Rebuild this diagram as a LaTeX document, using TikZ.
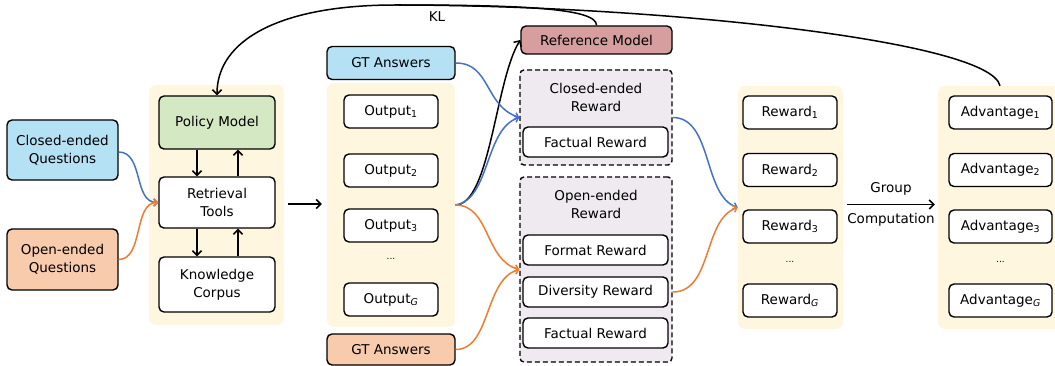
\documentclass[tikz,border=0pt]{standalone}
\usepackage{fontspec}
\setmainfont{DejaVu Sans}
\usetikzlibrary{arrows.meta,calc}
\definecolor{cream}{HTML}{FFF6E0}
\definecolor{qblue}{HTML}{B4E1F4}
\definecolor{qpeach}{HTML}{F8CBAD}
\definecolor{pgreen}{HTML}{D5E8C4}
\definecolor{refred}{HTML}{D69E9E}
\definecolor{lav}{HTML}{EFEAF0}
\definecolor{lblue}{HTML}{4472C4}
\definecolor{lorange}{HTML}{ED7D31}
\tikzset{
  box/.style={draw=black, line width=1.4pt, rounded corners=5pt, fill=white, align=center, inner sep=0pt},
  panel/.style={fill=cream, rounded corners=7pt, inner sep=0pt},
  dbox/.style={draw=black, line width=1.4pt, dashed, dash pattern=on 5pt off 3pt, rounded corners=4pt, fill=lav, inner sep=0pt},
  arr/.style={line width=1.5pt, -{Straight Barb[length=4.5pt,width=9pt]}},
  bline/.style={draw=lblue, line width=1.5pt, -{Straight Barb[length=3.5pt,width=7pt]}},
  oline/.style={draw=lorange, line width=1.5pt, -{Straight Barb[length=3.5pt,width=7pt]}},
  txt/.style={inner sep=0pt, align=center},
}
\begin{document}
\begin{tikzpicture}[x=1pt,y=-1pt, font=\fontsize{13.5}{18}\selectfont]
\useasboundingbox (0,0) rectangle (1055,366);
% panels
\node[panel, minimum width=135pt, minimum height=240pt] (p1) at (216.5,205) {};
\node[panel, minimum width=128pt, minimum height=244pt] (p2) at (391,205) {};
\node[panel, minimum width=105pt, minimum height=243pt] (p3) at (790.5,207.5) {};
\node[panel, minimum width=124pt, minimum height=243pt] (p4) at (1000,207.5) {};
% questions
\node[box, fill=qblue, minimum width=111pt, minimum height=60pt] (cq) at (62.5,150) {Closed-ended\\Questions};
\node[box, fill=qpeach, minimum width=111pt, minimum height=61pt] (oq) at (62.5,259.5) {Open-ended\\Questions};
% panel 1
\node[box, fill=pgreen, minimum width=116pt, minimum height=53pt] (pm) at (217,122.5) {Policy Model};
\node[box, minimum width=116pt, minimum height=51pt] (rt) at (217,202.5) {Retrieval\\Tools};
\node[box, minimum width=116pt, minimum height=55pt] (kc) at (217,284.5) {Knowledge\\Corpus};
% panel 2
\node[box, fill=qblue, minimum width=128pt, minimum height=33pt] (gt1) at (391,63) {GT Answers};
\node[box, minimum width=94pt, minimum height=33pt] (o1) at (391,111.5) {Output\textsubscript{1}};
\node[box, minimum width=94pt, minimum height=33pt] (o2) at (391,170.5) {Output\textsubscript{2}};
\node[box, minimum width=94pt, minimum height=33pt] (o3) at (391,225.5) {Output\textsubscript{3}};
\node[txt, font=\fontsize{9}{10}\selectfont] (od) at (391,259) {...};
\node[box, minimum width=94pt, minimum height=33pt] (oG) at (391,299.5) {Output\textsubscript{\textit{G}}};
\node[box, fill=qpeach, minimum width=128pt, minimum height=31pt] (gt2) at (391,349.5) {GT Answers};
% reference & rewards
\node[box, fill=refred, minimum width=151pt, minimum height=28pt] (ref) at (596.5,40) {Reference Model};
\node[dbox, minimum width=152pt, minimum height=95pt] (cr) at (596,117.5) {};
\node[txt] (crt) at (596,97) {Closed-ended\\Reward};
\node[box, minimum width=145pt, minimum height=30pt] (fr1) at (595.5,142) {Factual Reward};
\node[dbox, minimum width=152pt, minimum height=185pt] (or) at (596,269.5) {};
\node[txt] (ort) at (596,204) {Open-ended\\Reward};
\node[box, minimum width=145pt, minimum height=30pt] (fmt) at (595.5,250) {Format Reward};
\node[box, minimum width=145pt, minimum height=30pt] (div) at (595.5,292) {Diversity Reward};
\node[box, minimum width=145pt, minimum height=30pt] (fr2) at (595.5,333) {Factual Reward};
% panel 3
\node[box, minimum width=94pt, minimum height=33pt] (r1) at (790,112.5) {Reward\textsubscript{1}};
\node[box, minimum width=94pt, minimum height=33pt] (r2) at (790,170) {Reward\textsubscript{2}};
\node[box, minimum width=94pt, minimum height=33pt] (r3) at (790,226.5) {Reward\textsubscript{3}};
\node[txt, font=\fontsize{9}{10}\selectfont] (rd) at (790,262) {...};
\node[box, minimum width=94pt, minimum height=33pt] (rG) at (790,300.5) {Reward\textsubscript{\textit{G}}};
% panel 4
\node[box, minimum width=103pt, minimum height=33pt] (a1) at (1000.5,112.5) {Advantage\textsubscript{1}};
\node[box, minimum width=103pt, minimum height=33pt] (a2) at (1000.5,170) {Advantage\textsubscript{2}};
\node[box, minimum width=103pt, minimum height=33pt] (a3) at (1000.5,226.5) {Advantage\textsubscript{3}};
\node[txt, font=\fontsize{9}{10}\selectfont] (ad) at (1000.5,262) {...};
\node[box, minimum width=103pt, minimum height=33pt] (aG) at (1000.5,300.5) {Advantage\textsubscript{\textit{G}}};
% group computation
\draw[arr] (p3.east) ++(4,-3) coordinate (gs) -- ($(p4.west)+(-3,-3)$) coordinate (ge);
\node[txt] (gl1) at (891,189) {Group};
\node[txt] (gl2) at (891,220) {Computation};
% internal arrows
\draw[arr] ($(pm.south)+(-20,0)$) -- ($(rt.north)+(-20,0)$);
\draw[arr] ($(rt.north)+(21,0)$) -- ($(pm.south)+(21,0)$);
\draw[arr] ($(rt.south)+(-20,0)$) -- ($(kc.north)+(-20,0)$);
\draw[arr] ($(kc.north)+(21,0)$) -- ($(rt.south)+(21,0)$);
% panel1 -> panel2
\draw[arr] ($(p1.east)+(4,-1)$) -- ($(p2.west)+(-5,-1)$);
% question curves
\draw[bline] (cq.east) ++(0,2) .. controls +(25,0) and +(-25,0) .. (rt.west);
\draw[oline] (oq.east) ++(0,0) .. controls +(25,0) and +(-25,0) .. (rt.west);
% outputs to rewards
\draw[arr] (p2.east) .. controls +(35,0) and +(-25,40) .. (ref.west);
\draw[bline] (gt1.east) .. controls +(35,0) and +(-35,-12) .. (cr.west);
\draw[bline] (p2.east) .. controls +(35,-5) and +(-35,12) .. (cr.west);
\draw[oline] (p2.east) .. controls +(35,0) and +(-35,-10) .. (or.west);
\draw[oline] (gt2.east) .. controls +(35,0) and +(-35,10) .. (or.west);
% rewards to panel 3
\draw[bline] (cr.east) .. controls +(40,0) and +(-35,-12) .. (p3.west);
\draw[oline] (or.east |- div.east) .. controls +(40,0) and +(-35,12) .. (p3.west);
% KL curve
\coordinate (top) at (395,5);
\draw[arr] (p4.north) .. controls (990,40) and (650,5) .. (top) .. controls (280,5) and (217,40) .. (pm.north);
\draw[line width=1.5pt] (ref.north) .. controls (597,8) and (520,5) .. (top);
\node[txt] (kl) at (437,17) {KL};
\end{tikzpicture}
\end{document}
